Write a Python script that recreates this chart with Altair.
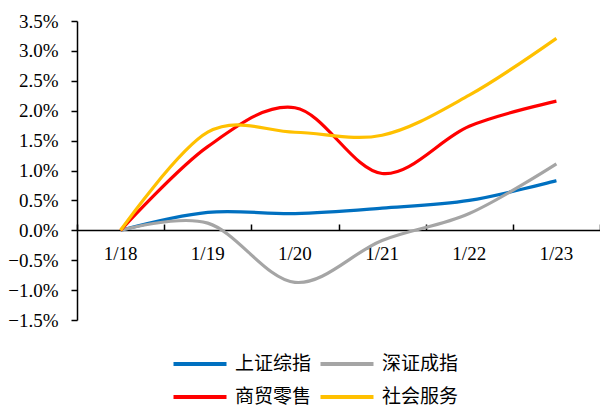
import altair as alt
import pandas as pd

dates = ["1/18", "1/19", "1/20", "1/21", "1/22", "1/23"]
series_names = ["上证综指", "深证成指", "商贸零售", "社会服务"]
colors = ["#0070C0", "#A5A5A5", "#FF0000", "#FFC000"]

sh_index = [0.0, 0.30, 0.28, 0.37, 0.50, 0.83]
sz_index = [0.0, 0.12, -0.87, -0.17, 0.28, 1.11]
retail = [0.0, 1.40, 2.05, 0.95, 1.74, 2.16]
service = [0.0, 1.64, 1.64, 1.59, 2.26, 3.21]

y_ticks = [-1.5, -1.0, -0.5, 0.0, 0.5, 1.0, 1.5, 2.0, 2.5, 3.0, 3.5]

rows = []
for name, vals in zip(series_names, [sh_index, sz_index, retail, service]):
    for d, v in zip(dates, vals):
        rows.append({"date": d, "series": name, "value": v / 100})
df = pd.DataFrame(rows)

num_font = "Liberation Serif"
cjk_font = "Noto Sans CJK SC"

x_scale = alt.Scale(type="band", domain=dates, paddingInner=0, paddingOuter=0)
y_scale = alt.Scale(domain=[-0.015, 0.035], nice=False, zero=False)

y_axis = alt.Axis(title=None, values=[v / 100 for v in y_ticks], format=".1%",
                  grid=False, domainColor="black", domainWidth=1.5,
                  tickColor="black", tickSize=6, tickWidth=1.5, labelPadding=13,
                  labelFont=num_font, labelFontSize=19, labelColor="black")

lines = alt.Chart(df).mark_line(interpolate="cardinal", strokeWidth=3.2).encode(
    x=alt.X("date:N", scale=x_scale, bandPosition=0.5, sort=dates,
            axis=alt.Axis(orient="bottom", offset=-90, title=None, labelAngle=0,
                          domain=False, ticks=False, labelPadding=14,
                          labelFont=num_font, labelFontSize=19, labelColor="black")),
    y=alt.Y("value:Q", scale=y_scale, axis=y_axis),
    color=alt.Color("series:N", scale=alt.Scale(domain=series_names, range=colors),
                    sort=series_names,
                    legend=alt.Legend(orient="none", legendX=111, legendY=331, columns=2,
                                      direction="horizontal",
                                      title=None, symbolType="M-2.65,0H2.65", symbolSize=400,
                                      symbolStrokeWidth=4, labelFontSize=19,
                                      labelFont=cjk_font, labelColor="black",
                                      labelOffset=23, columnPadding=0, rowPadding=11,
                                      padding=0)),
    detail="series:N",
)

zero_axis = alt.Chart(df).mark_line(strokeOpacity=0).encode(
    x=alt.X("date:N", scale=x_scale, bandPosition=0.5, sort=dates,
            axis=alt.Axis(orient="top", offset=-209, title=None, labels=False,
                          domainColor="black", domainWidth=1.5, tickColor="black",
                          tickSize=6, tickWidth=1.5, tickBand="extent")),
    y=alt.Y("value:Q", scale=y_scale, axis=y_axis),
    detail="series:N",
)

chart = alt.layer(lines, zero_axis).resolve_axis(x="independent").properties(
    width=523, height=299,
    padding={"left": 69, "top": 13, "right": 0, "bottom": 88},
    autosize="none",
).configure(background="white").configure_view(stroke=None)

chart.save("out.html", embed_options={"renderer": "svg", "actions": False})
